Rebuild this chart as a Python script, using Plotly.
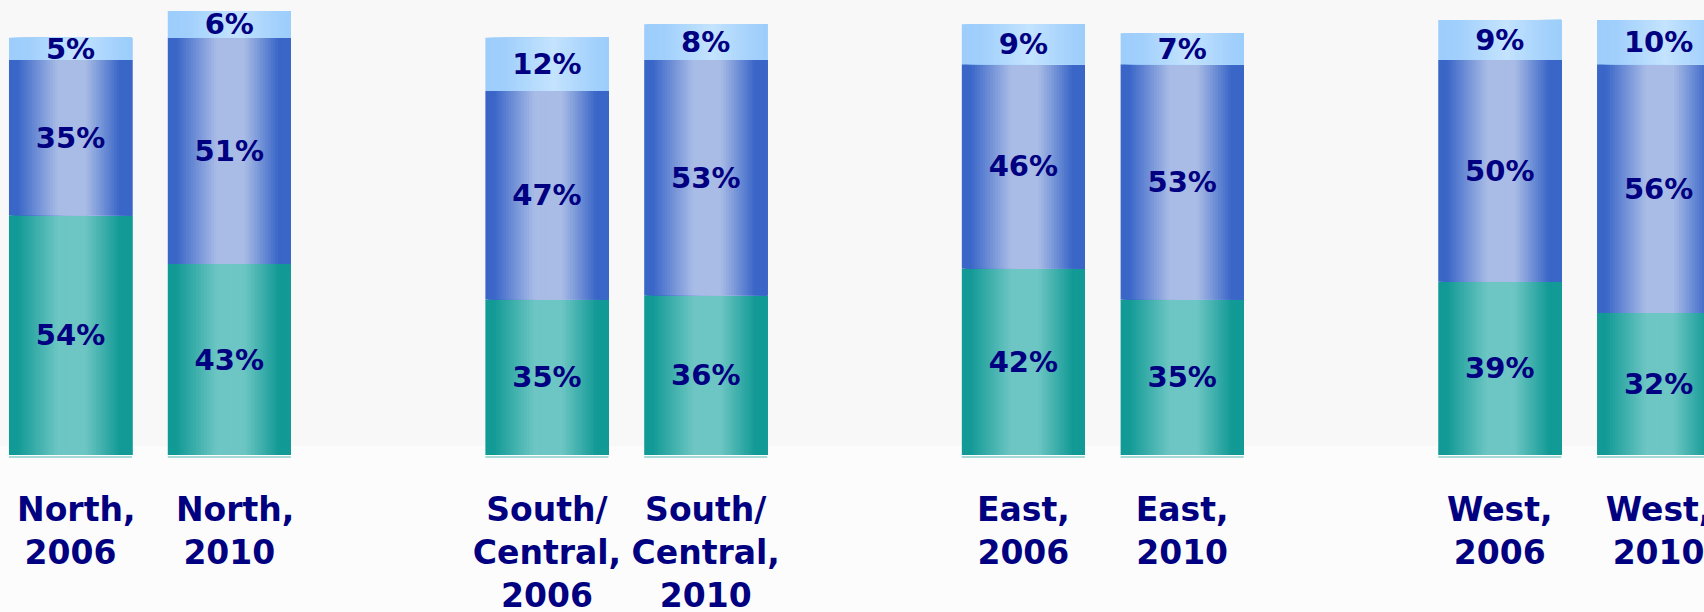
import plotly.graph_objects as go

# ---- data ----
categories = ["\u00a0North,<br>2006", "\u00a0North,<br>2010",
              "South/<br>Central,<br>2006", "South/<br>Central,<br>2010",
              "East,<br>2006", "East,<br>2010",
              "West,<br>2006", "West,<br>2010"]
slots = [0, 1, 3, 4, 6, 7, 9, 10]
bottom_vals = [54, 43, 35, 36, 42, 35, 39, 32]
middle_vals = [35, 51, 47, 53, 46, 53, 50, 56]
top_vals = [5, 6, 12, 8, 9, 7, 9, 10]

# ---- style ----
NAVY = "#000080"
FONT = "DejaVu Sans"
BAR_W = 0.775
N_STRIPS = 48

def hex2rgb(h):
    h = h.lstrip("#")
    return tuple(int(h[i:i + 2], 16) for i in (0, 2, 4))

def interp(scale, t):
    for (t0, c0), (t1, c1) in zip(scale[:-1], scale[1:]):
        if t0 <= t <= t1:
            f = 0 if t1 == t0 else (t - t0) / (t1 - t0)
            a, b = hex2rgb(c0), hex2rgb(c1)
            return "rgb(%d,%d,%d)" % tuple(round(a[k] + (b[k] - a[k]) * f) for k in range(3))
    return scale[-1][1]

def profile(dark, light):
    return [(0.0, dark), (0.07, dark), (0.40, light), (0.62, light), (0.90, dark), (1.0, dark)]

scales = [profile("#129a96", "#6dc6c3"),
          profile("#3a66c8", "#a9bce6"),
          [(0.0, "#9dcdfb"), (0.15, "#a0cffc"), (0.55, "#c4e3fe"), (0.85, "#a6d2fc"), (1.0, "#9ccdfb")]]

segments = [bottom_vals, middle_vals, top_vals]
bases = []
acc = [0] * len(bottom_vals)
for seg in segments:
    bases.append(list(acc))
    acc = [a + v for a, v in zip(acc, seg)]

fig = go.Figure()

# thin reflection line under each bar
fig.add_trace(go.Bar(x=slots, y=[0.25] * len(slots), base=[-0.6] * len(slots),
                     width=BAR_W, marker=dict(color="#a6dad6", line=dict(width=0)),
                     hoverinfo="skip", showlegend=False))

sw = BAR_W / N_STRIPS
for seg, base, sc in zip(segments, bases, scales):
    for i in range(N_STRIPS):
        col = interp(sc, (i + 0.5) / N_STRIPS)
        # each strip runs to the bar's right edge; later strips cover earlier ones (no seams)
        fig.add_trace(go.Bar(x=slots, y=seg, base=base, width=BAR_W - i * sw,
                             offset=-BAR_W / 2 + i * sw,
                             marker=dict(color=col, line=dict(width=0)),
                             hoverinfo="skip", showlegend=False))
    fig.add_trace(go.Bar(x=slots, y=seg, base=base, width=BAR_W,
                         marker=dict(color="rgba(0,0,0,0)", line=dict(width=0)),
                         text=[f"{v}%" for v in seg], textposition="inside",
                         insidetextanchor="middle", textangle=0, constraintext="none",
                         textfont=dict(family=FONT, size=29, color=NAVY, weight="bold"),
                         hoverinfo="skip", showlegend=False))

fig.update_layout(
    width=1704, height=612,
    margin=dict(l=0, r=0, t=0, b=154),
    paper_bgcolor="#fcfcfc", plot_bgcolor="rgba(0,0,0,0)",
    barmode="overlay", showlegend=False,
    xaxis=dict(range=[-0.444, 10.286], tickmode="array", tickvals=slots, ticktext=categories,
               showgrid=False, zeroline=False, showline=False, ticks="",
               automargin=False, ticklabelstandoff=29, ticklabeloverflow="allow",
               tickfont=dict(family=FONT, size=33, color=NAVY, weight="bold"),
               fixedrange=True),
    yaxis=dict(range=[-0.676, 102.48], visible=False, automargin=False, fixedrange=True),
    shapes=[dict(type="rect", xref="paper", yref="paper", x0=0, x1=1, y0=0.026, y1=1.0,
                 fillcolor="#f8f8f8", line=dict(width=0), layer="below")],
)

fig.write_html("out.html", config={"displayModeBar": False},
               post_script="document.body.style.margin='0';document.body.style.overflow='hidden';")
